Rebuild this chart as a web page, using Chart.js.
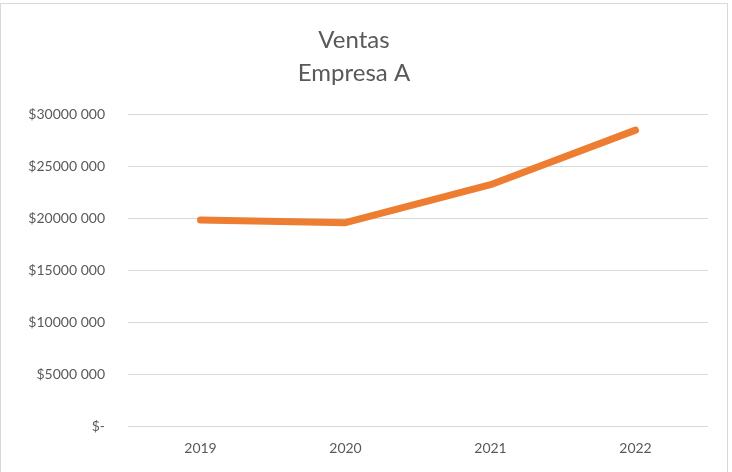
<!DOCTYPE html>
<html>
<head>
<meta charset="utf-8">
<script src="https://cdn.jsdelivr.net/npm/chart.js@4"></script>
<style>
  html, body { margin: 0; padding: 0; background: #fff; }
  #marco { position: absolute; left: 0; top: 3px; width: 726px; height: 480px; border: 1px solid #d9d9d9; }
  #wrap { position: absolute; left: 0; top: 0; width: 732px; height: 472px; }
</style>
</head>
<body>
<div id="marco"></div>
<div id="wrap"><canvas id="grafico"></canvas></div>
<script>
// Datos del gráfico
const anios = ['2019', '2020', '2021', '2022'];
const ventas = [19800000, 19550000, 23200000, 28450000];
const etiquetasY = ['$-', '$5000 000', '$10000 000', '$15000 000', '$20000 000', '$25000 000', '$30000 000'];

const gris = '#595959';

const ctx = document.getElementById('grafico').getContext('2d');
new Chart(ctx, {
    type: 'line',
    data: {
        labels: anios,
        datasets: [{
            label: 'Ventas',
            data: ventas,
            borderColor: '#ED7D31',
            backgroundColor: '#ED7D31',
            borderWidth: 7,
            borderCapStyle: 'round',
            borderJoinStyle: 'round',
            pointRadius: 0,
            tension: 0
        }]
    },
    options: {
        responsive: true,
        maintainAspectRatio: false,
        animation: false,
        layout: { padding: { top: 0, right: 24, bottom: 6, left: 0 } },
        plugins: {
            legend: { display: false },
            tooltip: { enabled: false },
            title: {
                display: true,
                text: ['Ventas', 'Empresa A'],
                color: gris,
                font: { family: 'Lato', size: 24, weight: 'normal', lineHeight: 1.375 },
                padding: { top: 24, bottom: 24 }
            }
        },
        scales: {
            x: {
                offset: true,
                grid: { display: false },
                border: { display: false },
                ticks: { color: gris, font: { family: 'Lato', size: 14 }, padding: 6 },
                afterFit: (scale) => { scale.height = 40; }
            },
            y: {
                min: 0,
                max: 30000000,
                grid: { color: '#d9d9d9', lineWidth: 1, drawTicks: false },
                border: { display: false },
                ticks: {
                    stepSize: 5000000,
                    color: gris,
                    font: { family: 'Lato', size: 14 },
                    padding: 23,
                    callback: (v) => etiquetasY[Math.round(v / 5000000)]
                },
                afterFit: (scale) => { scale.width = 128; }
            }
        }
    }
});
</script>
</body>
</html>
